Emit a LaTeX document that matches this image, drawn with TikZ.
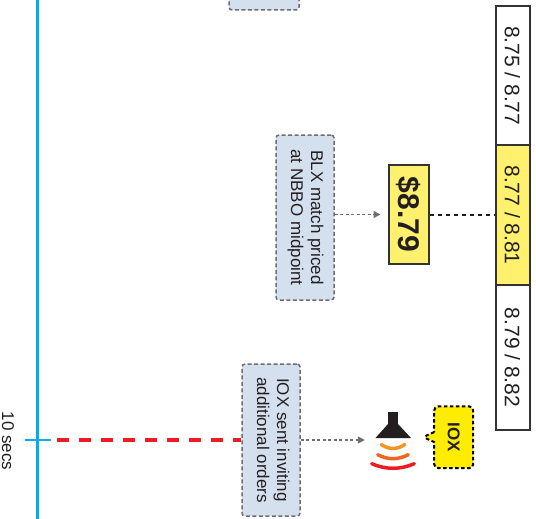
\documentclass[tikz,border=0pt]{standalone}
\usepackage{fontspec}
\setmainfont{Liberation Sans}
\usetikzlibrary{arrows.meta,shapes.callouts}
\definecolor{lineblue}{HTML}{00AEEF}
\definecolor{notefill}{HTML}{D5E0EF}
\definecolor{notegray}{HTML}{6D6E71}
\definecolor{quoteyellow}{HTML}{FFF06E}
\definecolor{ioxyellow}{HTML}{FFEC00}
\definecolor{alertred}{HTML}{ED1C24}
\definecolor{waveone}{HTML}{F7941D}
\definecolor{wavetwo}{HTML}{F26522}
\definecolor{ink}{HTML}{231F20}

\begin{document}
\begin{tikzpicture}[x = 1pt, y = 1pt,
  note/.style = {draw = notegray, fill = notefill, line width = 1.5pt, dash pattern = on 4pt off 2.5pt, rounded corners = 3pt, minimum width = 58pt, inner sep = 0pt, text = ink, font = \fontsize{17}{20}\selectfont},
  cell/.style = {draw = black!80, line width = 2pt, minimum width = 34pt, inner sep = 0pt, text = ink, font = \fontsize{21}{24}\selectfont},
  hint/.style = {notegray, line width = 1.5pt, dash pattern = on 3pt off 2.5pt, -{Triangle[length = 7pt, width = 7pt]}}]
\useasboundingbox (0, 0) rectangle (536, -519);
\clip (0, 0) rectangle (536, -519);
% time line
\coordinate (tstart) at (37.5, 0);
\coordinate (tend) at (37.5, -519);
\coordinate (t10) at (37.5, -440);
\draw [lineblue, line width = 3.5pt] (tstart) -- (tend);
\draw [lineblue, line width = 2.5pt] ([xshift = -12.5pt] t10) -- ([xshift = 13.5pt] t10);
\node (t10label) [inner sep = 0pt, text = ink, font = \fontsize{17}{20}\selectfont] at (8, -441) {\rotatebox{-90}{10 secs}};
% notes
\node (prevnote) [note, minimum width = 70pt, minimum height = 60pt] at (264, 20) {};
\node (blxnote) [note, minimum height = 165pt] at (305, -217.5) {\rotatebox{-90}{\begin{tabular}{@{}c@{}}BLX match priced\\at NBBO midpoint\end{tabular}}};
\node (ioxnote) [note, minimum height = 152pt] at (271, -440) {\rotatebox{-90}{\begin{tabular}{@{}c@{}}IOX sent inviting\\additional orders\end{tabular}}};
% quotes
\node (quotea) [cell, fill = white, minimum height = 138.5pt] at (512.5, -75.75) {\rotatebox{-90}{8.75 / 8.77}};
\node (quoteb) [cell, fill = quoteyellow, minimum height = 140pt] at (512.5, -215) {\rotatebox{-90}{8.77 / 8.81}};
\node (quotec) [cell, fill = white, minimum height = 145pt] at (512.5, -357.5) {\rotatebox{-90}{8.79 / 8.82}};
\node (price) [draw = black!80, line width = 2pt, fill = quoteyellow, minimum width = 40pt, minimum height = 99pt, inner sep = 0pt, text = ink, font = \fontsize{30}{34}\selectfont\bfseries] at (408.5, -214.5) {\rotatebox{-90}{\$8.79}};
\draw [black!90, line width = 2pt, dash pattern = on 4.5pt off 3.5pt] (price.east) -- (price.east -| quoteb.west);
\draw [hint] (blxnote.east |- price.west) -- ([xshift = -7pt] price.west);
% speaker
\node (speaker) [minimum width = 46pt, minimum height = 58pt, inner sep = 0pt] at (393, -440) {};
\draw [hint] (ioxnote.east) -- ([xshift = -5pt] speaker.west);
\begin{scope}[shift = {(speaker.center)}]
\fill [ink] (-5, 15) rectangle (5, 28);
\fill [ink] (-5, 16) -- (5, 16) -- (18, 2) -- (-17.5, 2) -- cycle;
\draw [waveone, line width = 3.5pt, line cap = round] (-11.75, -4.5) .. controls (-4, -9.8) and (4, -9.8) .. (11.75, -4.5);
\draw [wavetwo, line width = 3.5pt, line cap = round] (-15.3, -14.7) .. controls (-5.1, -20) and (5.1, -20) .. (15.3, -14.7);
\draw [alertred, line width = 3.5pt, line cap = round] (-21.3, -23.7) .. controls (-7.1, -29.8) and (7.1, -29.8) .. (21.3, -23.7);
\end{scope}
\node (ioxtag) [rectangle callout, callout absolute pointer = {(423, -437)}, callout pointer width = 10pt, draw = black, line width = 2pt, dash pattern = on 3.5pt off 2.5pt, rounded corners = 4pt, fill = ioxyellow, minimum width = 39pt, minimum height = 61.7pt, inner sep = 0pt, text = ink, font = \fontsize{17}{20}\selectfont\bfseries] at (453.7, -437.3) {\rotatebox{-90}{IOX}};
% red trace
\coordinate (redstart) at ([xshift = 19.5pt] t10);
\draw [alertred, line width = 4pt, dash pattern = on 11.5pt off 10.5pt] (redstart) -- (ioxnote.west);
\end{tikzpicture}
\end{document}
